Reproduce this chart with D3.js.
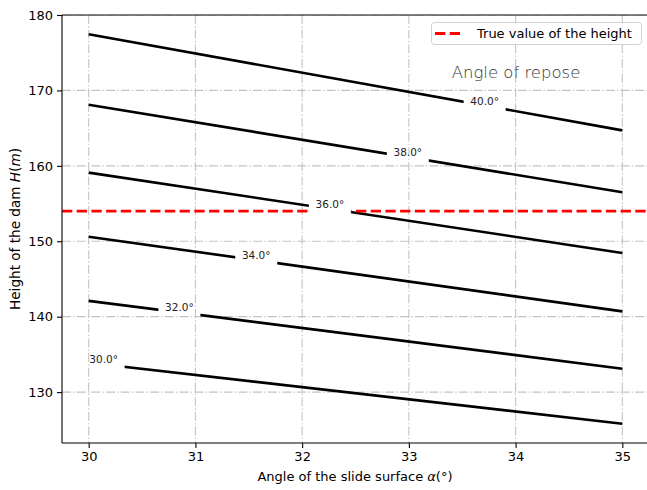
<!DOCTYPE html>
<html>
<head>
<meta charset="utf-8">
<script src="https://cdn.jsdelivr.net/npm/d3@7"></script>
<style>
  html, body { margin: 0; padding: 0; background: #fff; }
  svg { display: block; }
  text { font-family: "DejaVu Sans", sans-serif; }
</style>
</head>
<body>
<svg id="chart" width="647" height="490"></svg>
<script>
// Slide-surface angles where each contour is sampled (degrees)
const slideAngles = [30, 35];
// Angle of repose for each contour (degrees)
const reposeAngles = [30, 32, 34, 36, 38, 40];
// Dam height along each contour at the sampled slide angles (m)
const heights30 = [133.9, 125.8];
const heights32 = [142.1, 133.1];
const heights34 = [150.6, 140.7];
const heights36 = [159.1, 148.45];
const heights38 = [168.1, 156.5];
const heights40 = [177.45, 164.7];
// Slide angle where each contour's inline label sits
const labelAngles = [30.14, 30.85, 31.57, 32.26, 32.99, 33.71];
// Measured height of the dam (m)
const trueHeight = 154;
// Axis ticks
const xTicks = [30, 31, 32, 33, 34, 35];
const yTicks = [130, 140, 150, 160, 170, 180];

const contours = reposeAngles.map((a, i) => ({
  angle: a,
  values: [heights30, heights32, heights34, heights36, heights38, heights40][i],
  labelAt: labelAngles[i]
}));

const svg = d3.select("#chart");
const margin = { left: 62, top: 15, right: 649, bottom: 443 };
const fontSize = 13;

const x = d3.scaleLinear().domain([29.75, 35.25]).range([margin.left, margin.right]);
const y = d3.scaleLinear().domain([123.25, 180]).range([margin.bottom, margin.top]);

const defs = svg.append("defs");
defs.append("clipPath").attr("id", "plot-clip")
  .append("rect")
  .attr("x", margin.left).attr("y", margin.top)
  .attr("width", margin.right - margin.left).attr("height", margin.bottom - margin.top);

// Grid (dash-dot)
const grid = svg.append("g").attr("clip-path", "url(#plot-clip)");
grid.selectAll("line.gx").data(xTicks).join("line")
  .attr("x1", d => x(d)).attr("x2", d => x(d))
  .attr("y1", margin.top).attr("y2", margin.bottom)
  .attr("stroke", "#c4c4c4").attr("stroke-width", 1.1)
  .attr("stroke-dasharray", "8.9,2.2,1.4,2.2");
grid.selectAll("line.gy").data(yTicks).join("line")
  .attr("x1", margin.left).attr("x2", margin.right)
  .attr("y1", d => y(d)).attr("y2", d => y(d))
  .attr("stroke", "#c4c4c4").attr("stroke-width", 1.1)
  .attr("stroke-dasharray", "8.9,2.2,1.4,2.2");

// Contour lines with a gap cut out around each inline label
const line = d3.line().x((d, i) => x(slideAngles[i])).y(d => y(d));
const interp = (c, a) => {
  const t = (a - slideAngles[0]) / (slideAngles[1] - slideAngles[0]);
  return c.values[0] + (c.values[1] - c.values[0]) * t;
};
const gapHalf = 21;
const plot = svg.append("g").attr("clip-path", "url(#plot-clip)");
const labels = svg.append("g").attr("clip-path", "url(#plot-clip)");

contours.forEach((c, i) => {
  const lx = x(c.labelAt);
  const ly = y(interp(c, c.labelAt));
  const m = defs.append("mask").attr("id", "gap-" + i)
    .attr("maskUnits", "userSpaceOnUse")
    .attr("x", 0).attr("y", 0).attr("width", 647).attr("height", 490);
  m.append("rect").attr("x", 0).attr("y", 0).attr("width", 647).attr("height", 490).attr("fill", "#fff");
  m.append("rect").attr("x", lx - gapHalf).attr("y", ly - 20).attr("width", gapHalf * 2).attr("height", 40).attr("fill", "#000");

  plot.append("path")
    .datum(c.values)
    .attr("d", line)
    .attr("fill", "none")
    .attr("stroke", "#000")
    .attr("stroke-width", 2.6)
    .attr("mask", "url(#gap-" + i + ")");

  labels.append("text")
    .attr("x", lx).attr("y", ly - 5)
    .attr("text-anchor", "middle")
    .attr("dominant-baseline", "central")
    .attr("font-size", 10.5)
    .attr("fill", "#222")
    .text(c.angle.toFixed(1) + "°");
});

// Measured height reference, broken where it crosses the 36° label
const crossIdx = reposeAngles.indexOf(36);
plot.append("line")
  .attr("x1", margin.left).attr("x2", margin.right)
  .attr("y1", y(trueHeight)).attr("y2", y(trueHeight))
  .attr("stroke", "#ff0000").attr("stroke-width", 2.8)
  .attr("stroke-dasharray", "10.3,4.4")
  .attr("mask", "url(#gap-" + crossIdx + ")");

// Axes
const xAxis = d3.axisBottom(x).tickValues(xTicks).tickFormat(d3.format("d")).tickSize(5).tickPadding(4);
const yAxis = d3.axisLeft(y).tickValues(yTicks).tickFormat(d3.format("d")).tickSize(5).tickPadding(4);

const gx = svg.append("g").attr("transform", `translate(0,${margin.bottom})`).call(xAxis);
const gy = svg.append("g").attr("transform", `translate(${margin.left},0)`).call(yAxis);
[gx, gy].forEach(g => {
  g.select(".domain").remove();
  g.selectAll(".tick line").attr("stroke", "#000").attr("stroke-width", 1.1);
  g.selectAll(".tick text").attr("font-family", "DejaVu Sans").attr("font-size", fontSize).attr("fill", "#000");
});

// Spines
const spine = { stroke: "#000", width: 1.1 };
svg.append("line").attr("x1", margin.left).attr("x2", margin.left).attr("y1", margin.top).attr("y2", margin.bottom)
  .attr("stroke", spine.stroke).attr("stroke-width", spine.width);
svg.append("line").attr("x1", margin.left).attr("x2", margin.right).attr("y1", margin.bottom).attr("y2", margin.bottom)
  .attr("stroke", spine.stroke).attr("stroke-width", spine.width);
svg.append("line").attr("x1", margin.left).attr("x2", margin.right).attr("y1", margin.top).attr("y2", margin.top)
  .attr("stroke", spine.stroke).attr("stroke-width", spine.width);
svg.append("line").attr("x1", margin.right).attr("x2", margin.right).attr("y1", margin.top).attr("y2", margin.bottom)
  .attr("stroke", spine.stroke).attr("stroke-width", spine.width);

// Axis titles
const xTitle = svg.append("text")
  .attr("x", 355).attr("y", 481)
  .attr("text-anchor", "middle").attr("font-size", fontSize).attr("fill", "#000");
xTitle.append("tspan").text("Angle of the slide surface ");
xTitle.append("tspan").attr("font-style", "italic").text("α");
xTitle.append("tspan").text("(°)");

const yTitle = svg.append("text")
  .attr("transform", `translate(20,${(margin.top + margin.bottom) / 2}) rotate(-90)`)
  .attr("text-anchor", "middle").attr("font-size", 13.6).attr("fill", "#000");
yTitle.append("tspan").text("Height of the dam ");
yTitle.append("tspan").attr("font-style", "italic").text("H");
yTitle.append("tspan").text("(");
yTitle.append("tspan").attr("font-style", "italic").text("m");
yTitle.append("tspan").text(")");

// Contour-family caption
svg.append("text")
  .attr("x", 516).attr("y", 78)
  .attr("text-anchor", "middle")
  .attr("font-family", "Roboto, sans-serif")
  .attr("font-weight", 300)
  .attr("font-size", 16.5)
  .attr("fill", "#333")
  .text("Angle of repose");

// Legend
const legend = svg.append("g");
legend.append("rect")
  .attr("x", 431.5).attr("y", 22.5).attr("width", 210).attr("height", 22)
  .attr("rx", 3).attr("fill", "#fff").attr("fill-opacity", 0.8)
  .attr("stroke", "#d0d0d0").attr("stroke-width", 1);
legend.append("line")
  .attr("x1", 435).attr("x2", 463).attr("y1", 33.5).attr("y2", 33.5)
  .attr("stroke", "#ff0000").attr("stroke-width", 2.8)
  .attr("stroke-dasharray", "10.3,4.4");
legend.append("text")
  .attr("x", 477).attr("y", 33.5)
  .attr("dominant-baseline", "central")
  .attr("font-size", fontSize).attr("fill", "#000")
  .text("True value of the height");
</script>
</body>
</html>
